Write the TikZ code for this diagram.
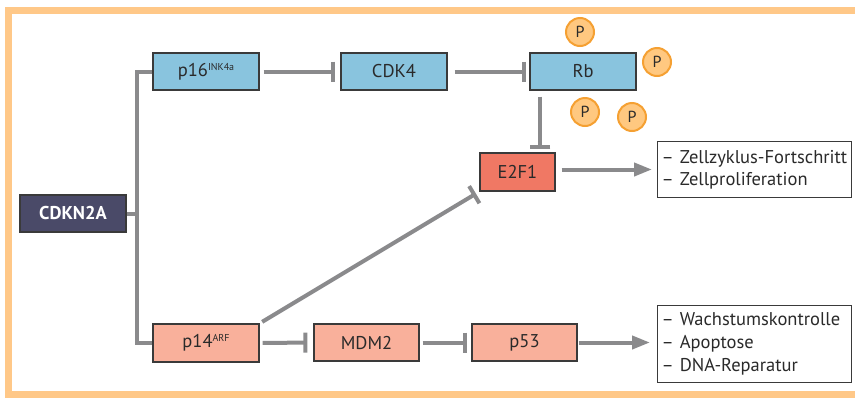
\documentclass[tikz,border=0pt]{standalone}
\usepackage{fontspec}
\setmainfont{PT Sans}
\usetikzlibrary{arrows.meta}
\definecolor{frameC}{HTML}{FFC888}
\definecolor{blueC}{HTML}{89C4DE}
\definecolor{redC}{HTML}{F07864}
\definecolor{salmonC}{HTML}{F9B09B}
\definecolor{darkC}{HTML}{4A4A68}
\definecolor{lineC}{HTML}{8A8A8C}
\definecolor{boxline}{HTML}{3A3A3A}
\definecolor{txt}{HTML}{2A2A2A}
\definecolor{pFill}{HTML}{FFC880}
\definecolor{pStroke}{HTML}{F5A032}
\begin{document}
\begin{tikzpicture}[x=1pt,y=-1pt,
  font=\fontsize{18.5}{22}\selectfont,
  box/.style={draw=boxline, line width=1.2pt, minimum width=106pt, minimum height=37pt, inner sep=0pt, text=txt},
  bluebox/.style={box, fill=blueC},
  salbox/.style={box, fill=salmonC},
  tbox/.style={draw=boxline, line width=1pt, fill=white, align=left, text width=186pt, inner xsep=4pt, inner ysep=0pt, text=txt, anchor=north west},
  pcirc/.style={circle, draw=pStroke, line width=2pt, fill=pFill, minimum size=28pt, inner sep=0pt, text=txt, font=\fontsize{16}{16}\selectfont},
  conn/.style={draw=lineC, line width=4pt},
  inh/.style={conn, -{Bar[width=20pt]}},
  act/.style={conn, -{Triangle[length=18pt,width=13pt]}}
]
\useasboundingbox (0,0) rectangle (855,397);
% frame
\draw[frameC, line width=7pt] (860,10) -- (8,10) -- (8,394) -- (860,394);

% nodes
\node[bluebox] (p16) at (206,71.5) {p16\raisebox{6pt}{\fontsize{10}{10}\selectfont INK4a}};
\node[bluebox] (cdk4) at (394,71.5) {CDK4};
\node[bluebox] (rb) at (583,71.5) {Rb};
\node[box, fill=redC, minimum width=75pt, minimum height=38pt] (e2f1) at (517.5,172) {E2F1};
\node[box, fill=darkC, text=white, font=\fontsize{18.5}{22}\selectfont\bfseries] (cdkn) at (73,213.5) {CDKN2A};
\node[salbox, minimum height=38pt] (p14) at (206,343) {p14\raisebox{6pt}{\fontsize{10}{10}\selectfont ARF}};
\node[salbox, minimum width=105pt] (mdm2) at (366.5,342.5) {MDM2};
\node[salbox, minimum width=105pt] (p53) at (524.5,342.5) {p53};

\node[tbox, minimum height=56pt] (out1) at (657,141) {– Zellzyklus-Fortschritt\\– Zellproliferation};
\node[tbox, minimum height=77pt, font=\fontsize{18.5}{23}\selectfont] (out2) at (657,305) {– Wachstumskontrolle\\– Apoptose\\– DNA-Reparatur};

% phosphates
\node[pcirc] (pa) at (580,32) {P};
\node[pcirc] (pb) at (657,62) {P};
\node[pcirc] (pc) at (585,112) {P};
\node[pcirc] (pd) at (632,117) {P};

% branch
\coordinate (br) at (137,213.5);
\draw[conn] (cdkn.east) -- (br);
\draw[conn] (p16.west) -| (br) |- (p14.west);

% inhibitions
\draw[inh, shorten <=4pt, shorten >=5pt] (p16.east) -- (cdk4.west);
\draw[inh, shorten <=7pt, shorten >=3pt] (cdk4.east) -- (rb.west);
\draw[inh, shorten <=6pt, shorten >=3pt] ([xshift=11pt]rb.south west) -- ([xshift=11pt]rb.south west |- e2f1.north);
\draw[inh, shorten <=3pt, shorten >=4pt] (p14.north east) -- (e2f1.south west);
\draw[inh, shorten <=3pt, shorten >=6pt] (p14.east) -- (mdm2.west);
\draw[inh, shorten <=3pt, shorten >=4pt] (mdm2.east) -- (p53.west);

% activations
\draw[act, shorten <=6pt, shorten >=5pt] (e2f1.east |- out1.west) -- (out1.west);
\draw[act, shorten <=1pt, shorten >=7pt] (p53.east) -- (p53.east -| out2.west);
\end{tikzpicture}
\end{document}
